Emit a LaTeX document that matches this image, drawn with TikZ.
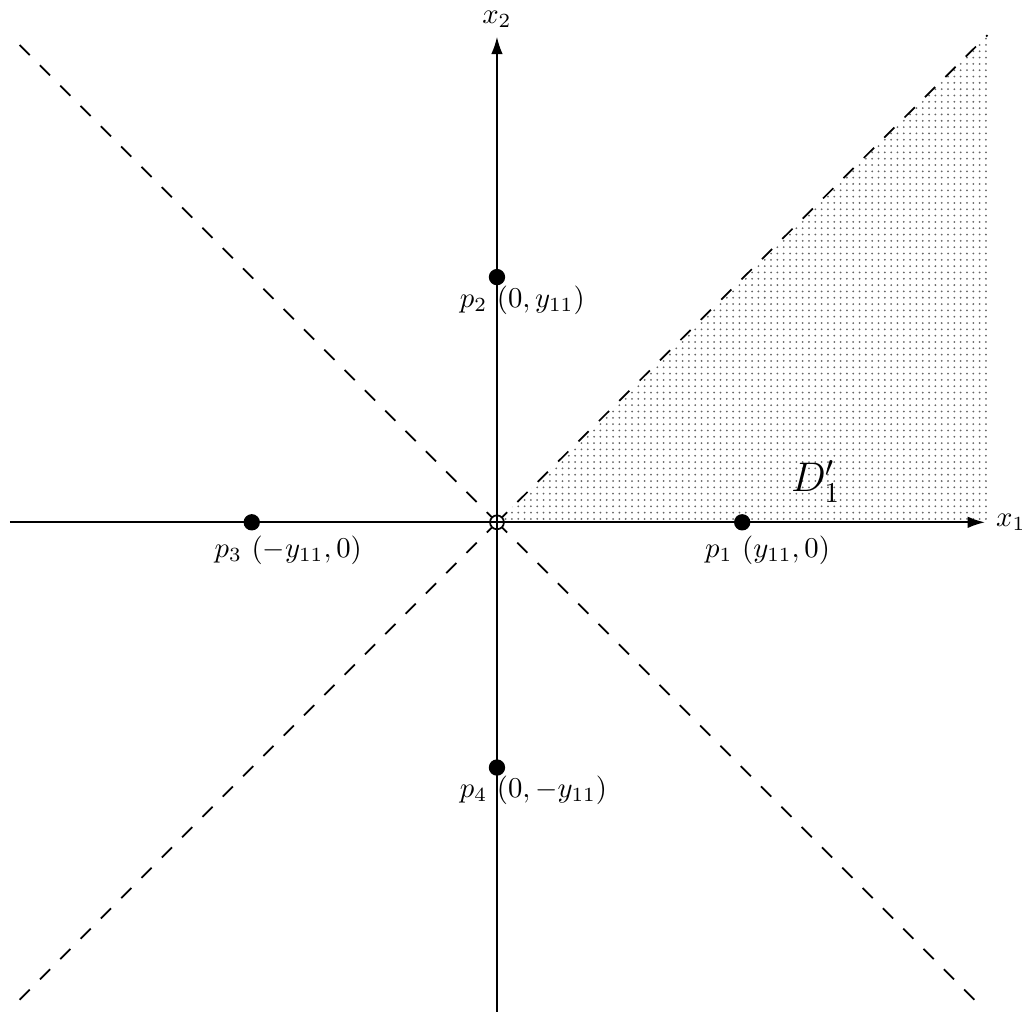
\documentclass[tikz,border=0pt]{standalone}
\usetikzlibrary{arrows.meta,patterns.meta}
\begin{document}
\begin{tikzpicture}[
  axis/.style={line width=0.6pt, -{Latex[length=6pt,width=4pt]}},
  diag/.style={line width=0.6pt, dash pattern=on 5pt off 5pt},
  pt/.style={circle, fill=black, inner sep=0pt, minimum size=0.2cm},
  lbl/.style={anchor=west, inner sep=0pt}
]
  \useasboundingbox (-6.08,-5.99) rectangle (6.46,6.39);
  % shaded sector
  \fill[pattern={Dots[distance=2.2pt,radius=0.35pt]}, pattern color=black!60] (0,0) -- (6,5.96) -- (6,0) -- cycle;
  % dashed diagonals
  \coordinate (o) at (0,0);
  \coordinate (ne) at (6,5.96);
  \coordinate (nw) at (-5.94,5.94);
  \coordinate (sw) at (-5.94,-5.94);
  \coordinate (se) at (5.94,-5.94);
  \draw[diag] (o) -- (ne);
  \draw[diag] (o) -- (nw);
  \draw[diag] (o) -- (sw);
  \draw[diag] (o) -- (se);
  % axes
  \coordinate (xl) at (-5.96,0);
  \coordinate (yb) at (0,-6.0);
  \node[lbl] (x1) at (6.1,0) {$x_1$};
  \node (x2) at (0,6.15) {$x_2$};
  \draw[axis] (xl) -- (5.97,0);
  \draw[axis] (yb) -- (0,5.94);
  \node[circle, draw, line width=0.6pt, fill=white, inner sep=0pt, minimum size=0.17cm] (orig) at (o) {};
  \draw[line width=0.6pt] (orig.west) -- (orig.east) (orig.north) -- (orig.south);
  % points
  \node[pt] (p1) at (3,0) {};
  \node[pt] (p2) at (0,3) {};
  \node[pt] (p3) at (-3,0) {};
  \node[pt] (p4) at (0,-3) {};
  \node[lbl] (l1) at ([xshift=-0.46cm, yshift=-0.34cm]p1) {$p_1$ $(y_{11},0)$};
  \node[lbl] (l2) at ([xshift=-0.46cm, yshift=-0.28cm]p2) {$p_2$ $(0,y_{11})$};
  \node[lbl] (l3) at ([xshift=-0.46cm, yshift=-0.34cm]p3) {$p_3$ $(-y_{11},0)$};
  \node[lbl] (l4) at ([xshift=-0.46cm, yshift=-0.28cm]p4) {$p_4$ $(0,-y_{11})$};
  \node (d1) at (3.9,0.5) {\Large $D'_1$};
\end{tikzpicture}
\end{document}
